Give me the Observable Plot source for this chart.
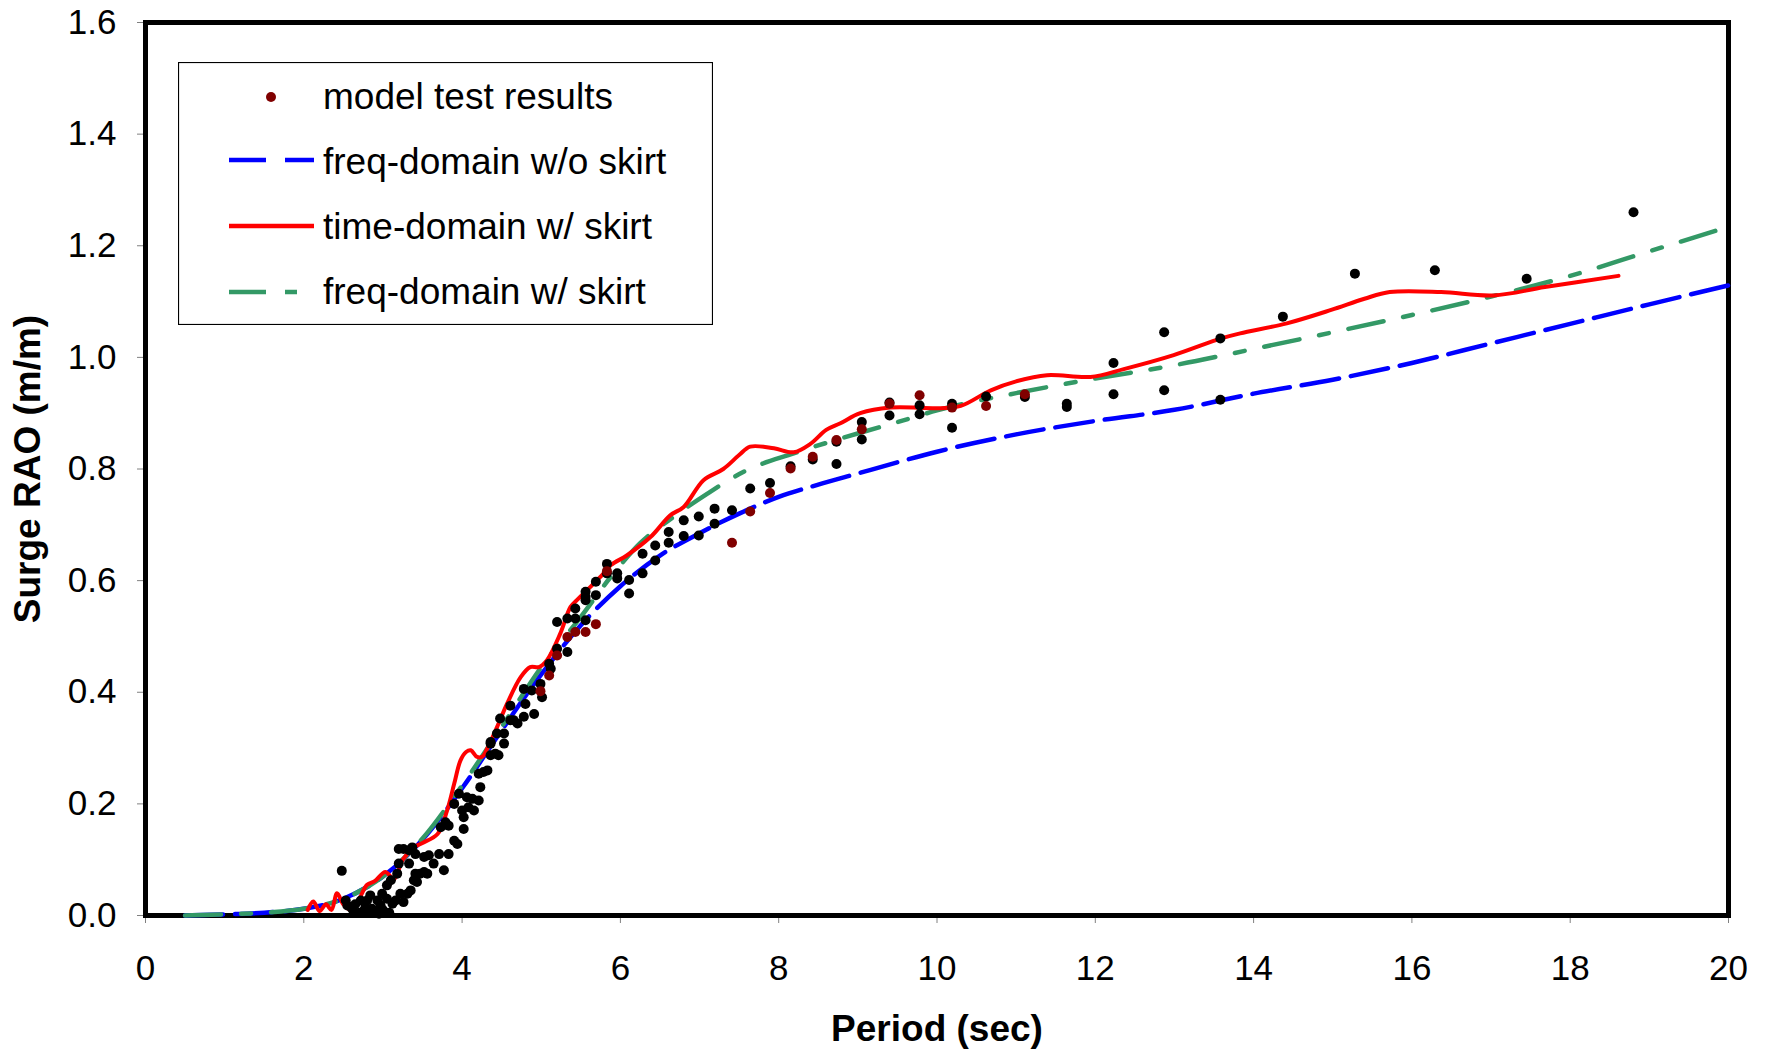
<!DOCTYPE html>
<html>
<head>
<meta charset="utf-8">
<script src="https://cdn.jsdelivr.net/npm/d3@7"></script>
<script src="https://cdn.jsdelivr.net/npm/@observablehq/plot@0.6"></script>
<style>
html, body { margin: 0; padding: 0; background: #fff; }
#wrap { position: relative; width: 1767px; height: 1053px; }
#legend { position: absolute; left: 178px; top: 62px; }
</style>
</head>
<body>
<div id="wrap"></div>
<script>
// ---------- data ----------
const xTicks = [0, 2, 4, 6, 8, 10, 12, 14, 16, 18, 20];
const yTicks = [0, 0.2, 0.4, 0.6, 0.8, 1.0, 1.2, 1.4, 1.6];

const seriesNames = ["model test results", "freq-domain w/o skirt", "time-domain w/ skirt", "freq-domain w/ skirt"];

// freq-domain w/o skirt (blue, long dash)
const freqNoSkirt = [
  [0.5,0],[1.0,0.002],[1.5,0.005],[2.0,0.012],[2.5,0.03],[3.0,0.07],[3.5,0.136],[4.0,0.228],
  [4.5,0.332],[5.0,0.432],[5.5,0.52],[6.0,0.59],[6.5,0.645],[7.0,0.685],[7.5,0.72],[8.0,0.75],
  [8.5,0.772],[9.0,0.792],[9.5,0.812],[10,0.831],[11,0.862],[12,0.886],[13,0.906],[14,0.935],
  [15,0.96],[16,0.99],[17,1.025],[18,1.06],[19,1.095],[20,1.129]
];

// time-domain w/ skirt (red, solid)
const timeSkirt = [
  [2.05,0.01],[2.12,0.025],[2.2,0.008],[2.28,0.02],[2.35,0.01],[2.42,0.04],[2.5,0.02],[2.6,0.01],
  [2.7,0.03],[2.8,0.055],[2.9,0.062],[3.03,0.078],[3.14,0.065],[3.25,0.1],[3.39,0.122],[3.5,0.13],
  [3.69,0.146],[3.81,0.188],[3.9,0.236],[3.98,0.278],[4.05,0.293],[4.11,0.296],[4.19,0.284],
  [4.26,0.285],[4.32,0.30],[4.44,0.337],[4.57,0.38],[4.74,0.427],[4.86,0.445],[4.97,0.445],
  [5.07,0.457],[5.24,0.505],[5.37,0.553],[5.45,0.565],[5.58,0.583],[5.75,0.607],[5.88,0.628],
  [6.08,0.645],[6.38,0.678],[6.63,0.717],[6.8,0.732],[7.05,0.78],[7.3,0.80],[7.5,0.825],
  [7.64,0.84],[7.94,0.837],[8.19,0.83],[8.4,0.845],[8.6,0.87],[8.78,0.882],[9.03,0.90],
  [9.41,0.91],[10.04,0.909],[10.3,0.913],[10.68,0.941],[11.0,0.957],[11.39,0.968],[11.94,0.965],
  [12.36,0.979],[12.99,1.004],[13.59,1.034],[13.83,1.043],[14.42,1.061],[14.98,1.085],
  [15.4,1.105],[15.72,1.117],[16.37,1.117],[17.03,1.111],[17.68,1.126],[18.61,1.146]
];

// freq-domain w/ skirt (green, dash-dot)
const freqSkirt = [
  [0.5,0],[1.0,0.002],[1.5,0.005],[2.0,0.012],[2.5,0.03],[3.0,0.07],[3.5,0.138],[4.0,0.233],
  [4.5,0.338],[5.0,0.445],[5.5,0.535],[5.88,0.607],[6.25,0.667],[6.67,0.714],[7.1,0.756],
  [7.6,0.798],[8.19,0.828],[9.03,0.865],[9.5,0.884],[10,0.905],[11,0.936],[12,0.962],
  [13,0.986],[14,1.015],[15,1.045],[16,1.076],[17,1.109],[18,1.146],[19,1.19],[20,1.234]
];

// model test results (black points)
const modelBlack = [
  [2.48,0.080],[2.53,0.027],[2.55,0.018],[2.61,0.012],[2.65,0.02],[2.7,0.005],[2.72,0.027],
  [2.76,0.009],[2.78,0.015],[2.80,0.027],[2.82,0.005],[2.84,0.036],[2.86,0.012],[2.9,0.008],
  [2.93,0.027],[2.95,0.003],[2.97,0.018],[2.99,0.039],[3.0,0.01],[3.05,0.054],[3.05,0.03],
  [3.08,0.005],[3.10,0.063],[3.12,0.021],[3.16,0.027],[3.18,0.075],[3.20,0.093],[3.22,0.039],
  [3.26,0.024],[3.31,0.039],[3.35,0.045],[3.39,0.063],[3.41,0.075],[3.43,0.060],[3.47,0.075],
  [3.52,0.078],[3.56,0.075],[3.20,0.119],[3.26,0.119],[3.33,0.117],[3.37,0.122],[3.41,0.110],
  [3.33,0.093],[3.52,0.105],[3.58,0.108],[3.64,0.093],[3.71,0.110],[3.77,0.081],[3.83,0.110],
  [3.73,0.158],[3.79,0.167],[3.83,0.161],[3.90,0.200],[3.96,0.218],[4.00,0.188],[4.06,0.212],
  [4.08,0.194],[4.02,0.176],[4.02,0.155],[3.94,0.128],[3.90,0.134],[4.13,0.209],[4.15,0.188],
  [4.21,0.206],[4.23,0.230],[4.21,0.254],[4.27,0.257],[4.32,0.260],[4.36,0.308],[4.36,0.287],
  [4.42,0.290],[4.46,0.287],[4.44,0.326],[4.53,0.308],[4.61,0.376],[4.65,0.350],[4.70,0.344],
  [4.36,0.311],[4.53,0.326],[4.48,0.353],[4.61,0.350],[4.78,0.356],[4.80,0.379],[4.91,0.361],
  [4.78,0.406],[4.88,0.403],[4.99,0.415],[5.01,0.391],[5.10,0.451],[5.12,0.442],[5.20,0.478],
  [5.33,0.472],[5.20,0.526],[5.33,0.532],[5.43,0.550],[5.43,0.532],[5.56,0.529],[5.56,0.565],
  [5.56,0.580],[5.56,0.571],[5.69,0.574],[5.69,0.598],[5.83,0.630],[5.83,0.613],[5.96,0.613],
  [5.96,0.604],[6.11,0.601],[6.11,0.577],[6.28,0.648],[6.28,0.613],[6.44,0.663],[6.44,0.636],
  [6.61,0.687],[6.61,0.668],[6.80,0.708],[6.80,0.680],[6.99,0.715],[6.99,0.681],[7.19,0.729],
  [7.19,0.702],[7.41,0.726],[7.64,0.765],[7.89,0.775],[8.15,0.805],[8.43,0.817],[8.73,0.849],
  [8.73,0.809],[9.05,0.884],[9.05,0.853],[9.40,0.919],[9.40,0.896],[9.78,0.914],[9.78,0.898],
  [10.19,0.917],[10.19,0.874],[10.62,0.930],[11.11,0.929],[11.64,0.917],[11.64,0.911],
  [12.23,0.990],[12.23,0.934],[12.87,1.045],[12.87,0.941],[13.58,1.034],[13.58,0.924],
  [14.37,1.073],[15.28,1.150],[16.29,1.156],[17.45,1.141],[18.80,1.260]
];

// model test results (dark red points)
const modelRed = [
  [4.99,0.402],[5.10,0.430],[5.20,0.466],[5.33,0.499],[5.43,0.508],[5.56,0.508],[5.69,0.522],
  [5.83,0.617],[7.41,0.668],[7.64,0.724],[7.89,0.757],[8.15,0.801],[8.43,0.822],[8.73,0.852],
  [9.05,0.871],[9.40,0.917],[9.78,0.932],[10.19,0.910],[10.62,0.913],[11.11,0.934]
];

// ---------- styles ----------
const FONT = "'Liberation Sans', Arial, Helvetica, sans-serif";
const C_BLUE = "#0000ff", C_RED = "#ff0000", C_GREEN = "#339966", C_DOT = "#800000";
const DASH_BLUE = "38,12", DASH_GREEN = "36,20,10,20";

const chart = Plot.plot({
  width: 1767,
  height: 1053,
  marginLeft: 145,
  marginRight: 39,
  marginTop: 22,
  marginBottom: 138,
  style: { fontFamily: FONT, fontSize: "35px", color: "black", background: "white", overflow: "visible" },
  x: { domain: [0, 20] },
  y: { domain: [0, 1.6] },
  marks: [
    Plot.axisX(xTicks, { tickSize: 8, tickPadding: 32, stroke: "#808080", fill: "black", label: null, tickFormat: d => String(d) }),
    Plot.axisY(yTicks, { tickSize: 8, tickPadding: 21, stroke: "#808080", fill: "black", label: null, tickFormat: d3.format(".1f") }),
    Plot.frame({ stroke: "black", strokeWidth: 5 }),
    Plot.line(freqNoSkirt, { x: d => d[0], y: d => d[1], stroke: C_BLUE, strokeWidth: 4.5, strokeDasharray: DASH_BLUE, curve: "monotone-x" }),
    Plot.line(freqSkirt, { x: d => d[0], y: d => d[1], stroke: C_GREEN, strokeWidth: 4.5, strokeDasharray: DASH_GREEN, curve: "monotone-x" }),
    Plot.line(timeSkirt, { x: d => d[0], y: d => d[1], stroke: C_RED, strokeWidth: 4, curve: "catmull-rom" }),
    Plot.dot(modelBlack, { x: d => d[0], y: d => d[1], r: 5, fill: "black", stroke: "none" }),
    Plot.dot(modelRed, { x: d => d[0], y: d => d[1], r: 5, fill: C_DOT, stroke: "none" }),
    Plot.text(["Period (sec)"], { text: d => d, frameAnchor: "bottom", dy: 114, textAnchor: "middle", fontWeight: "bold", fontSize: 37, fill: "black", lineAnchor: "middle" }),
    Plot.text(["Surge RAO (m/m)"], { text: d => d, frameAnchor: "left", dx: -117, rotate: -90, textAnchor: "middle", fontWeight: "bold", fontSize: 37, fill: "black", lineAnchor: "middle" })
  ]
});

const wrap = document.getElementById("wrap");
wrap.appendChild(chart);

// ---------- legend (inside the plot area, as in the reference) ----------
const lw = 535, lh = 263;
const leg = d3.select(wrap).append("svg")
  .attr("id", "legend").attr("width", lw).attr("height", lh)
  .style("font-family", FONT);
leg.append("rect").attr("x", 0.5).attr("y", 0.5).attr("width", lw - 1).attr("height", lh - 1)
  .attr("fill", "white").attr("stroke", "black").attr("stroke-width", 1.2);

const rowsMid = [35, 98, 164, 230];
const rowsBase = [47, 112, 177, 242];
const sx1 = 51, sx2 = 136, tx = 145;

leg.append("circle").attr("cx", 93).attr("cy", rowsMid[0]).attr("r", 5).attr("fill", C_DOT);
leg.append("line").attr("x1", sx1).attr("x2", sx2).attr("y1", rowsMid[1]).attr("y2", rowsMid[1])
  .attr("stroke", C_BLUE).attr("stroke-width", 4.5).attr("stroke-dasharray", "37,19");
leg.append("line").attr("x1", sx1).attr("x2", sx2).attr("y1", rowsMid[2]).attr("y2", rowsMid[2])
  .attr("stroke", C_RED).attr("stroke-width", 4.5);
leg.append("line").attr("x1", sx1).attr("x2", sx2).attr("y1", rowsMid[3]).attr("y2", rowsMid[3])
  .attr("stroke", C_GREEN).attr("stroke-width", 4.5).attr("stroke-dasharray", "37,19,12,19");

seriesNames.forEach((name, i) => {
  leg.append("text").attr("x", tx).attr("y", rowsBase[i]).attr("font-size", 37).attr("fill", "black").text(name);
});
</script>
</body>
</html>
